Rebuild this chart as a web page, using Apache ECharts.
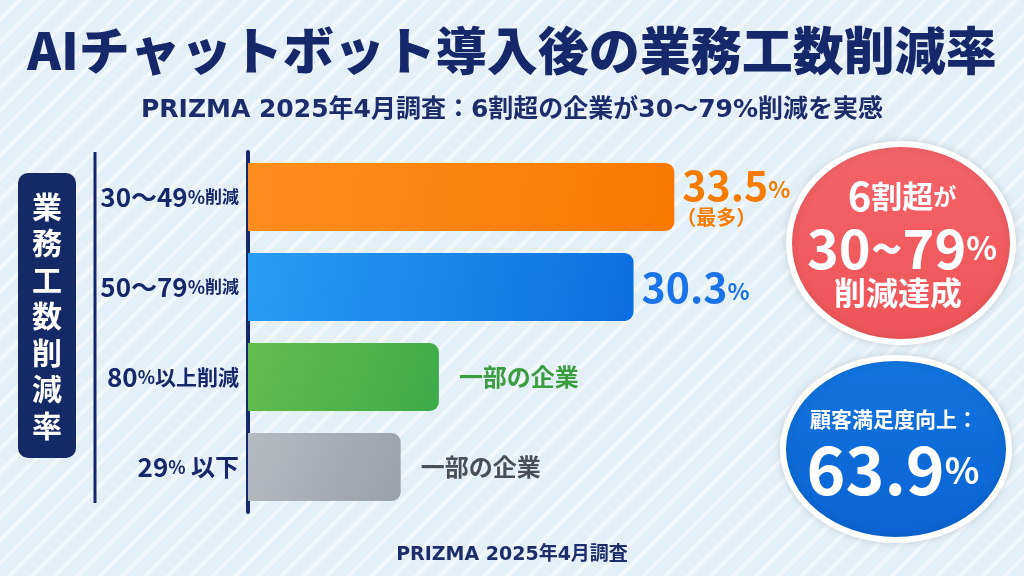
<!DOCTYPE html>
<html>
<head>
<meta charset="utf-8">
<script src="https://cdn.jsdelivr.net/npm/echarts@6/dist/echarts.min.js"></script>
<style>
html,body{margin:0;padding:0;width:1024px;height:576px;overflow:hidden;}
body{background:repeating-linear-gradient(135deg,#e4f0f8 0px,#e4f0f8 12px,#f1f7fb 12px,#f1f7fb 16px);}
#c{width:1024px;height:576px;}
</style>
</head>
<body>
<div id="c"></div>
<script>
const categories = ["30〜49%削減", "50〜79%削減", "80%以上削減", "29% 以下"];
const values = [33.5, 30.3, 15, 12];
const valueLabels = ["33.5%", "30.3%", "一部の企業", "一部の企業"];
const valueNotes = ["（最多）", "", "", ""];
const barColors = [["#ff8d1f", "#f97800"], ["#2a9cf3", "#0b6fe2"], ["#62bd4d", "#3daa48"], ["#b6bac1", "#9aa0a8"]];
const labelColors = ["#f57c00", "#1a73e8", "#3a9d3f", "#4a4f57"];

const navy = "#15286a";
const FONT = '"Noto Sans CJK JP", "Noto Sans", sans-serif';
const WIDE = '"DejaVu Sans", "Noto Sans CJK JP", sans-serif';

const chart = echarts.init(document.getElementById('c'), null, {renderer: 'canvas'});

function catFormatter(v) {
  const m = v.match(/^([\d〜]+)(%)(.*)$/);
  if (!m) return v;
  const restKey = m[3].indexOf('削減') >= 0 ? (m[3].length > 2 ? 'r3' : 'r') : 'r2';
  return '{n|' + m[1] + '}{p|' + m[2] + '}{' + restKey + '|' + m[3] + '}';
}

const data = values.map((v, i) => ({
  value: v,
  itemStyle: {
    color: new echarts.graphic.LinearGradient(0, 0, 1, 1, [
      {offset: 0, color: barColors[i][0]},
      {offset: 1, color: barColors[i][1]}
    ]),
    borderRadius: [0, 9, 9, 0]
  },
  label: {
    distance: i < 2 ? 8 : 20
  }
}));

chart.setOption({
  backgroundColor: 'transparent',
  textStyle: {fontFamily: FONT},
  title: [
    {
      text: 'AIチャットボット導入後の業務工数削減率',
      left: 'center', top: 20,
      textStyle: {fontSize: 51, fontWeight: 900, color: navy, fontFamily: FONT}
    },
    {
      text: 'PRIZMA 2025年4月調査：6割超の企業が30〜79%削減を実感',
      left: 'center', top: 93,
      textStyle: {fontSize: 25, fontWeight: 'bold', color: '#1b2d6b', fontFamily: WIDE}
    },
    {
      text: 'PRIZMA 2025年4月調査',
      left: 'center', top: 541,
      textStyle: {fontSize: 19, fontWeight: 'bold', color: '#1b2d6b', fontFamily: WIDE}
    }
  ],
  grid: {left: 248, right: 267, top: 152, bottom: 64},
  xAxis: {
    type: 'value', min: 0, max: 40, show: false
  },
  yAxis: {
    type: 'category',
    data: categories,
    inverse: true,
    axisLine: {show: true, lineStyle: {color: navy, width: 4}},
    axisTick: {show: false},
    axisLabel: {
      margin: 9,
      formatter: catFormatter,
      rich: {
        n: {fontSize: 26, fontWeight: 'bold', color: navy, fontFamily: FONT},
        p: {fontSize: 18, fontWeight: 'bold', color: navy, fontFamily: FONT},
        r: {fontSize: 17, fontWeight: 'bold', color: navy, fontFamily: FONT},
        r3: {fontSize: 21, fontWeight: 'bold', color: navy, fontFamily: FONT},
        r2: {fontSize: 24, fontWeight: 'bold', color: navy, fontFamily: FONT}
      }
    }
  },
  series: [{
    type: 'bar',
    data: data,
    barWidth: 68,
    label: {
      show: true,
      position: 'right',
      formatter: function (p) {
        const i = p.dataIndex;
        const t = valueLabels[i];
        if (t.endsWith('%')) {
          let s = '{v' + i + '|' + t.slice(0, -1) + '}{p' + i + '|%}';
          if (valueNotes[i]) s += '\n{s' + i + '|' + valueNotes[i] + '}';
          return s;
        }
        return '{t' + i + '|' + t + '}';
      },
      rich: (function () {
        const r = {};
        labelColors.forEach((c, i) => {
          r['v' + i] = {fontSize: 41, fontWeight: 'bold', color: c, fontFamily: FONT, lineHeight: 40};
          r['p' + i] = {fontSize: 23, fontWeight: 'bold', color: c, fontFamily: FONT, lineHeight: 40, verticalAlign: 'bottom', padding: [0, 0, 4, 0]};
          r['s' + i] = {fontSize: 20, fontWeight: 'bold', color: c, fontFamily: FONT, lineHeight: 24, padding: [0, 0, 0, -6]};
          r['t' + i] = {fontSize: 24, fontWeight: 'bold', color: c, fontFamily: FONT};
        });
        return r;
      })()
    }
  }],
  graphic: [
    {
      type: 'rect', left: 18, top: 173,
      shape: {width: 58, height: 285, r: 10},
      style: {fill: '#142a66'}
    },
    {
      type: 'text', left: 47 - 15, top: 188,
      style: {
        text: '業\n務\n工\n数\n削\n減\n率',
        fill: '#ffffff', font: 'bold 30px ' + FONT, lineHeight: 36.5, align: 'left'
      }
    },
    {
      type: 'line',
      shape: {x1: 95, y1: 152, x2: 95, y2: 503},
      style: {stroke: navy, lineWidth: 3}
    },
    {
      type: 'ellipse',
      shape: {cx: 901, cy: 243, rx: 112, ry: 99},
      style: {
        fill: new echarts.graphic.LinearGradient(0, 0, 0, 1, [
          {offset: 0, color: '#f4646a'}, {offset: 1, color: '#ee5458'}
        ]),
        stroke: '#ffffff', lineWidth: 6,
        shadowBlur: 8, shadowColor: 'rgba(0,0,0,0.12)'
      }
    },
    {
      type: 'text', x: 902, y: 196,
      style: {
        text: '{a|6}{b|割超}{c|が}',
        align: 'center', verticalAlign: 'middle',
        rich: {
          a: {fontSize: 40, fontWeight: 'bold', fill: '#fff', fontFamily: FONT},
          b: {fontSize: 31, fontWeight: 'bold', fill: '#fff', fontFamily: FONT},
          c: {fontSize: 23, fontWeight: 'bold', fill: '#fff', fontFamily: FONT}
        }
      }
    },
    {
      type: 'text', x: 902, y: 248,
      style: {
        text: '{a|30~79}{b|%}',
        align: 'center', verticalAlign: 'middle',
        rich: {
          a: {fontSize: 54, fontWeight: 'bold', fill: '#fff', fontFamily: FONT},
          b: {fontSize: 32, fontWeight: 'bold', fill: '#fff', fontFamily: FONT}
        }
      }
    },
    {
      type: 'text', x: 898, y: 293,
      style: {
        text: '削減達成', align: 'center', verticalAlign: 'middle',
        fill: '#fff', font: 'bold 32px ' + FONT
      }
    },
    {
      type: 'ellipse',
      shape: {cx: 896, cy: 449, rx: 113, ry: 91},
      style: {
        fill: new echarts.graphic.LinearGradient(0, 0, 0, 1, [
          {offset: 0, color: '#1275e0'}, {offset: 1, color: '#0a63d2'}
        ]),
        stroke: '#ffffff', lineWidth: 6,
        shadowBlur: 8, shadowColor: 'rgba(0,0,0,0.12)'
      }
    },
    {
      type: 'text', x: 894, y: 419,
      style: {
        text: '顧客満足度向上：', align: 'center', verticalAlign: 'middle',
        fill: '#fff', font: 'bold 21px ' + FONT
      }
    },
    {
      type: 'text', x: 893, y: 470,
      style: {
        text: '{a|63.9}{b|%}',
        align: 'center', verticalAlign: 'middle',
        rich: {
          a: {fontSize: 66, fontWeight: 'bold', fill: '#fff', fontFamily: FONT},
          b: {fontSize: 36, fontWeight: 'bold', fill: '#fff', fontFamily: FONT}
        }
      }
    }
  ]
});
</script>
</body>
</html>
